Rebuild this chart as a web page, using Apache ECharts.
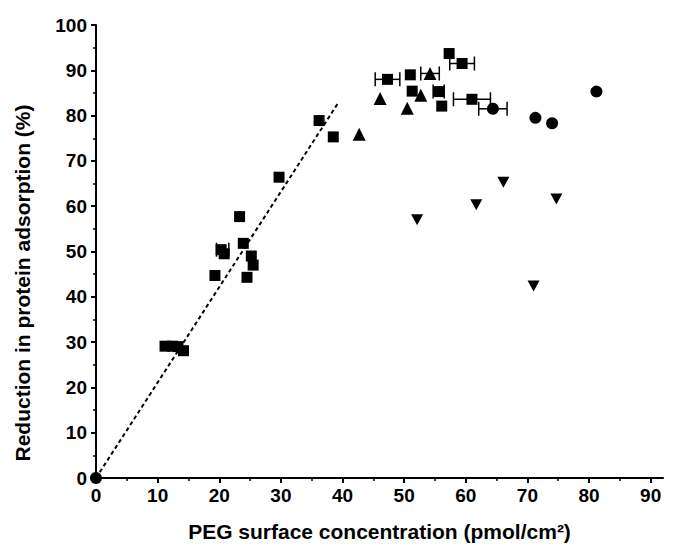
<!DOCTYPE html>
<html><head><meta charset="utf-8">
<script src="https://cdn.jsdelivr.net/npm/echarts@6/dist/echarts.min.js"></script>
<style>html,body{margin:0;padding:0;background:#fff}#c{width:677px;height:550px}</style>
</head><body><div id="c"></div>
<script>
const xMajorTicks = [0, 10, 20, 30, 40, 50, 60, 70, 80, 90];
const xMinorTicks = [5, 15, 25, 35, 45, 55, 65, 75, 85];
const squares = [
  [11.2, 29.1], [12.4, 29.1], [13.3, 29.0], [14.2, 28.1],
  [19.3, 44.7], [20.3, 50.4], [20.8, 49.5], [23.3, 57.7], [23.9, 51.8],
  [24.5, 44.3], [25.2, 49.0], [25.5, 47.0], [29.7, 66.4],
  [36.2, 78.9], [38.5, 75.3], [47.3, 88.0], [51.0, 89.0], [51.3, 85.4],
  [55.6, 85.3], [56.1, 82.1], [57.3, 93.7], [59.4, 91.5], [61.0, 83.6]
];
const upTriangles = [[42.7, 75.9], [46.1, 83.8], [50.5, 81.6], [52.7, 84.5], [54.2, 89.3]];
const circles = [[0, 0], [64.4, 81.5], [71.3, 79.5], [74.0, 78.3], [81.2, 85.3]];
const downTriangles = [[52.1, 57.0], [61.7, 60.3], [66.1, 65.3], [71.0, 42.4], [74.7, 61.6]];
// [x, y, x error]
const errorBars = [
  [20.55, 50.4, 1.0], [47.3, 88.0, 2.0], [54.2, 89.3, 1.5], [55.6, 85.3, 0.9],
  [59.4, 91.5, 2.0], [61.0, 83.6, 3.0], [64.4, 81.5, 2.3]
];
const fitLine = [[0, 0], [39.2, 82.6]];

const FONT = '"Liberation Sans", Arial, sans-serif';
const chart = echarts.init(document.getElementById('c'), null, {renderer: 'svg'});
const labelStyle = {color: '#000', fontFamily: FONT, fontWeight: 'bold', fontSize: 19};
const markStyle = {color: '#000', opacity: 1};
chart.setOption({
  animation: false,
  backgroundColor: '#fff',
  grid: {left: 96, right: 14, top: 25, bottom: 72},
  xAxis: [{
    type: 'value', min: 0, max: 92,
    position: 'bottom',
    axisLine: {lineStyle: {color: '#000', width: 2}},
    axisTick: {length: 5, lineStyle: {color: '#000', width: 2}, customValues: xMajorTicks},
    axisLabel: Object.assign({margin: 8, customValues: xMajorTicks}, labelStyle),
    splitLine: {show: false},
    name: 'PEG surface concentration (pmol/cm²)',
    nameLocation: 'middle', nameGap: 43,
    nameTextStyle: {color: '#000', fontFamily: FONT, fontWeight: 'bold', fontSize: 21}
  }, {
    type: 'value', min: 0, max: 92,
    position: 'bottom',
    axisLine: {show: false},
    axisTick: {length: 3, lineStyle: {color: '#000', width: 1.5}, customValues: xMinorTicks},
    axisLabel: {show: false},
    splitLine: {show: false}
  }],
  yAxis: {
    type: 'value', min: 0, max: 100, interval: 10,
    axisLine: {show: true, lineStyle: {color: '#000', width: 2}},
    axisTick: {show: true, length: 5, lineStyle: {color: '#000', width: 2}},
    minorTick: {show: true, splitNumber: 2, length: 3, lineStyle: {color: '#000', width: 1.5}},
    axisLabel: Object.assign({margin: 9}, labelStyle),
    splitLine: {show: false}
  },
  graphic: [{
    type: 'text', x: 22, y: 283, rotation: Math.PI / 2,
    style: {text: 'Reduction in protein adsorption (%)', fill: '#000', font: 'bold 21px ' + FONT,
      align: 'center', verticalAlign: 'middle'}
  }],
  series: [
    {type: 'line', data: fitLine, symbol: 'none', z: 1,
      lineStyle: {color: '#000', width: 2, type: [4, 3]}},
    {type: 'custom', data: errorBars, z: 2, encode: {x: 0, y: 1},
      renderItem: function (params, api) {
        const x = api.value(0), y = api.value(1), e = api.value(2);
        const p1 = api.coord([x - e, y]), p2 = api.coord([x + e, y]);
        const h = 7, st = {stroke: '#000', lineWidth: 1.5};
        return {type: 'group', children: [
          {type: 'line', shape: {x1: p1[0], y1: p1[1], x2: p2[0], y2: p2[1]}, style: st},
          {type: 'line', shape: {x1: p1[0], y1: p1[1] - h, x2: p1[0], y2: p1[1] + h}, style: st},
          {type: 'line', shape: {x1: p2[0], y1: p2[1] - h, x2: p2[0], y2: p2[1] + h}, style: st}
        ]};
      }},
    {type: 'scatter', data: squares, symbol: 'rect', symbolSize: 11, z: 3, clip: false,
      itemStyle: markStyle},
    {type: 'scatter', data: upTriangles, symbol: 'triangle', symbolSize: 13, z: 3, clip: false,
      itemStyle: markStyle},
    {type: 'scatter', data: circles, symbol: 'circle', symbolSize: 12, z: 3, clip: false,
      itemStyle: markStyle},
    {type: 'scatter', data: downTriangles, symbol: 'triangle', symbolRotate: 180, symbolSize: [12, 11], z: 3, clip: false,
      itemStyle: markStyle}
  ]
});
</script></body></html>
